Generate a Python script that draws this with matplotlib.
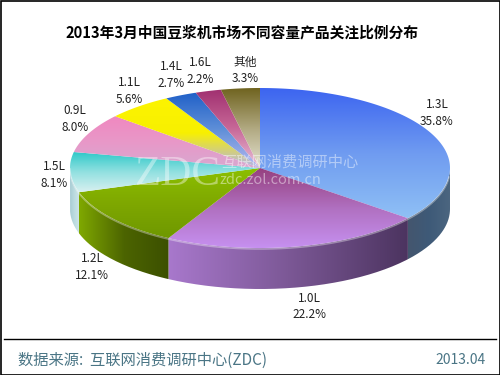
import numpy as np
import matplotlib
matplotlib.use("Agg")
import matplotlib.pyplot as plt
from matplotlib.patches import PathPatch, Rectangle
from matplotlib.path import Path
from matplotlib.colors import LinearSegmentedColormap

plt.rcParams['font.family'] = ['Noto Sans CJK SC', 'DejaVu Sans']

categories = ['1.3L', '1.0L', '1.2L', '1.5L', '0.9L', '1.1L', '1.4L', '1.6L', '其他']
shares = [35.8, 22.2, 12.1, 8.1, 8.0, 5.6, 2.7, 2.2, 3.3]

# top face colours, upper edge -> lower edge of each slice
top_colors = [
    ['#3c64f0', '#6f9bf0', '#8fc0f5'],
    ['#96407f', '#b070c0', '#c690f0'],
    ['#8cc000', '#7fa800', '#6f9800'],
    ['#2cc8c8', '#90e0e0', '#d8f0f0'],
    ['#f088c0', '#e898c8', '#d8a8d0'],
    ['#fcf400', '#f8f000', '#b0b0f0'],
    ['#2060c8', '#6090d8', '#b8b8f0'],
    ['#a03070', '#c86898', '#e8c0d8'],
    ['#706420', '#b0a880', '#e4e2d0'],
]
# side colours, left -> right
side_colors = [
    ['#44566e', '#3e5a78', '#4c6680'],
    ['#a878cc', '#7c5896', '#4c3460'],
    ['#7fa800', '#4c6400', '#3c5000'],
    ['#a8ccd4', '#bcdce0', '#cce4e6'],
]
label_xy = [(437, 105), (309, 298), (92, 259), (54, 167), (75, 111),
            (129, 83), (171, 67), (200, 63), (245, 62)]

cx, cy = 260, 168
rx, ry = 190, 80
depth = 41


def rim(a):
    # a is clockwise from the top, on the ellipse
    return cx + rx * np.sin(a), cy - ry * np.cos(a)


fig = plt.figure(figsize=(5, 3.75), dpi=100)
ax = fig.add_axes([0, 0, 1, 1])
ax.set_xlim(0, 500)
ax.set_ylim(375, 0)
ax.axis('off')


def fill_gradient(verts, colors, vertical=True):
    verts = np.array(verts)
    path = Path(np.vstack([verts, verts[:1]]))
    patch = PathPatch(path, fc='none', ec='none', transform=ax.transData)
    ax.add_patch(patch)
    cmap = LinearSegmentedColormap.from_list('g', colors)
    x0, y0 = verts.min(axis=0)
    x1, y1 = verts.max(axis=0)
    grad = np.linspace(0, 1, 128)
    grad = grad[:, None] if vertical else grad[None, :]
    im = ax.imshow(grad, cmap=cmap, extent=(x0, x1, y1, y0), aspect='auto',
                   interpolation='bilinear', zorder=2)
    im.set_clip_path(patch)


edges = np.cumsum([0] + shares) / sum(shares) * 2 * np.pi

# sides first (only the front half of the ellipse can be seen)
for i, colors in enumerate(side_colors):
    a0 = max(edges[i], np.pi / 2)
    a1 = min(edges[i + 1], 3 * np.pi / 2)
    t = np.linspace(a0, a1, 80)
    x, y = rim(t)
    verts = np.vstack([np.column_stack([x, y]),
                       np.column_stack([x[::-1], y[::-1] + depth])])
    fill_gradient(verts, colors, vertical=False)

for i, colors in enumerate(top_colors):
    t = np.linspace(edges[i], edges[i + 1], 120)
    x, y = rim(t)
    verts = np.vstack([[[cx, cy]], np.column_stack([x, y])])
    fill_gradient(verts, colors)

# light rim along the front edge
t = np.linspace(np.pi / 2 + 0.1, 3 * np.pi / 2, 200)
x, y = rim(t)
ax.plot(x, y + 1, color='white', alpha=0.35, lw=1.2, zorder=3)

# watermark
ax.text(135, 185, 'ZDC', fontsize=31, family='Liberation Serif', color='white',
        alpha=0.4, ha='left', va='baseline', zorder=4)
ax.text(221, 162.5, '互联网消费调研中心', fontsize=11, color='white', alpha=0.45,
        ha='left', va='center', zorder=4)
ax.text(220, 179.5, 'zdc.zol.com.cn', fontsize=10.5, color='white', alpha=0.45,
        ha='left', va='center', zorder=4)

for name, share, (lx, ly) in zip(categories, shares, label_xy):
    ax.text(lx, ly, name, fontsize=8.5, color='#222222', ha='center', va='center', zorder=5)
    ax.text(lx, ly + 16.5, f'{share:.1f}%', fontsize=8.5, color='#222222',
            ha='center', va='center', zorder=5)

ax.text(242, 32.5, '2013年3月中国豆浆机市场不同容量产品关注比例分布', fontsize=10.6,
        fontweight='bold', color='black', ha='center', va='center', zorder=5)

ax.plot([4, 496], [338.5, 338.5], color='black', lw=1, zorder=5)
ax.text(18, 360, '数据来源:  互联网消费调研中心(ZDC)', fontsize=11, color='#4a7585',
        ha='left', va='center', zorder=5)
ax.text(486, 360, '2013.04', fontsize=10, color='#4a7585', ha='right', va='center', zorder=5)

ax.add_patch(Rectangle((0.5, 0.5), 499, 374, fc='none', ec='black', lw=1.2, zorder=6))
ax.set_xlim(0, 500)
ax.set_ylim(375, 0)

fig.savefig('out.png', dpi=100)
